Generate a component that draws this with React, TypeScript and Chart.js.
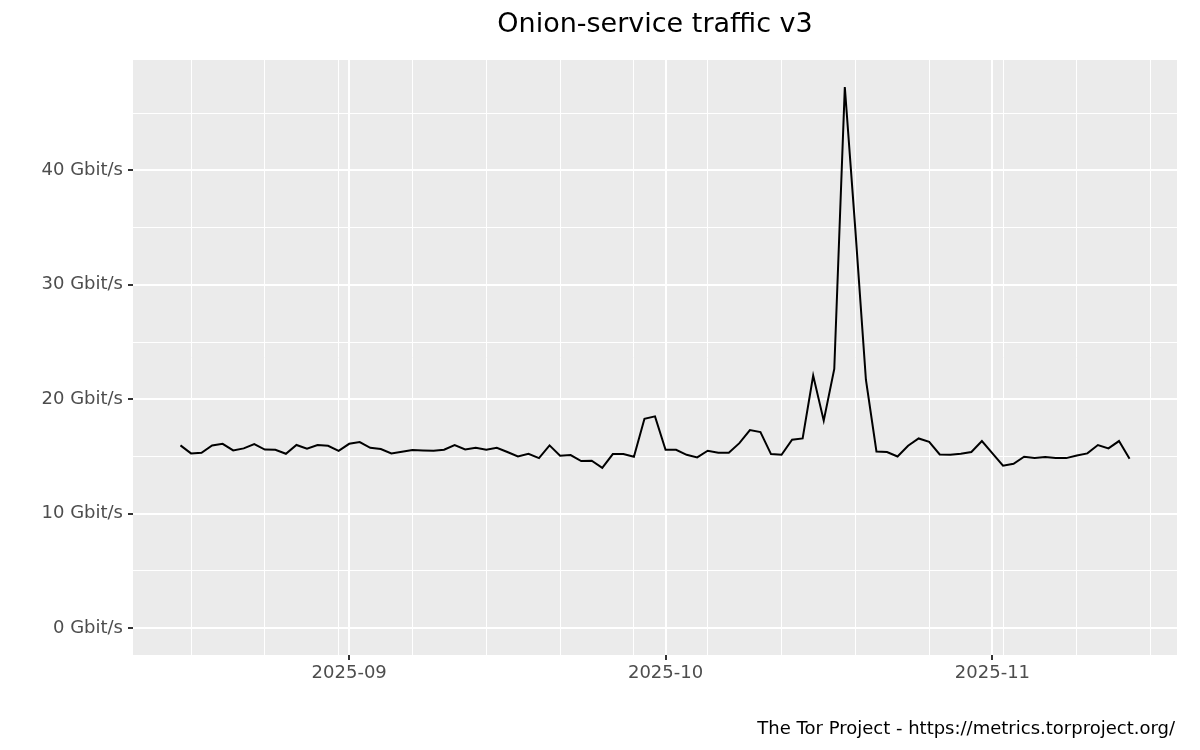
import React, { useEffect, useRef } from "react";
import { Chart, registerables } from "chart.js";

Chart.register(...registerables);

const TITLE = "Onion-service traffic v3";
const CAPTION = "The Tor Project - https://metrics.torproject.org/";
const START_DATE = "2025-08-16";

// Daily onion-service traffic (Gbit/s), 2025-08-16 .. 2025-11-14
const trafficGbit = [
  15.96, 15.26, 15.32, 15.96, 16.1, 15.52, 15.7, 16.08, 15.6, 15.58,
  15.23, 16.0, 15.67, 15.99, 15.93, 15.49, 16.1, 16.25, 15.75, 15.64,
  15.26, 15.4, 15.55, 15.52, 15.49, 15.58, 15.99, 15.6, 15.75, 15.58,
  15.75, 15.38, 14.99, 15.23, 14.85, 15.96, 15.05, 15.11, 14.59, 14.62,
  14.0, 15.2, 15.2, 14.97, 18.29, 18.5, 15.58, 15.58, 15.14, 14.91,
  15.49, 15.32, 15.32, 16.16, 17.3, 17.13, 15.2, 15.14, 16.45, 16.57,
  22.06, 18.12, 22.64, 47.29, 34.8, 21.7, 15.43, 15.38, 14.99, 15.93,
  16.57, 16.28, 15.17, 15.14, 15.23, 15.38, 16.34, 15.26, 14.18, 14.35,
  14.97, 14.85, 14.94, 14.85, 14.85, 15.08, 15.26, 15.99, 15.7, 16.34,
  14.79,
];

// Major x breaks (month starts) and minor x breaks (Sundays)
const monthTicks = ["2025-09-01", "2025-10-01", "2025-11-01"];
const monthLabels = ["2025-09", "2025-10", "2025-11"];
const weekTicks = [
  "2025-08-17", "2025-08-24", "2025-08-31", "2025-09-07", "2025-09-14",
  "2025-09-21", "2025-09-28", "2025-10-05", "2025-10-12", "2025-10-19",
  "2025-10-26", "2025-11-02", "2025-11-09", "2025-11-16",
];

const yMajorTicks = [0, 10, 20, 30, 40];
const yMinorTicks = [5, 15, 25, 35, 45];

const DAY = 86400000;
const startMs = Date.parse(START_DATE + "T00:00:00Z");
const dayIndex = (d: string) => Math.round((Date.parse(d + "T00:00:00Z") - startMs) / DAY);

const FONT = "'DejaVu Sans', 'Liberation Sans', sans-serif";

export default function App() {
  const ref = useRef<HTMLCanvasElement | null>(null);

  useEffect(() => {
    if (!ref.current) return;
    const points = trafficGbit.map((v, i) => ({ x: i, y: v }));
    const n = trafficGbit.length - 1;
    const xPad = n * 0.05;
    const yMax = Math.max(...trafficGbit);
    const yPad = yMax * 0.05;

    const majorX = monthTicks.map(dayIndex);
    const minorX = weekTicks.map(dayIndex);
    const xTickVals = [...majorX, ...minorX].sort((a, b) => a - b);
    const isMajorX = (v: number) => majorX.includes(v);
    const isMajorY = (v: number) => yMajorTicks.includes(v);

    const decor = {
      id: "decor",
      beforeDraw(chart: any) {
        const { ctx, chartArea } = chart;
        ctx.save();
        ctx.fillStyle = "#EBEBEB";
        ctx.fillRect(chartArea.left, chartArea.top, chartArea.right - chartArea.left, chartArea.bottom - chartArea.top);
        ctx.restore();
      },
      afterDraw(chart: any) {
        const { ctx, chartArea } = chart;
        ctx.save();
        ctx.fillStyle = "#000000";
        ctx.font = `27px ${FONT}`;
        ctx.textAlign = "center";
        ctx.textBaseline = "alphabetic";
        ctx.fillText(TITLE, (chartArea.left + chartArea.right) / 2, 32);
        ctx.font = `18px ${FONT}`;
        ctx.textAlign = "right";
        ctx.fillText(CAPTION, chartArea.right - 2, 734);
        ctx.restore();
      },
    };

    const chart = new Chart(ref.current, {
      type: "line",
      data: {
        datasets: [
          {
            data: points,
            borderColor: "#000000",
            borderWidth: 2,
            pointRadius: 0,
            tension: 0,
            fill: false,
          },
        ],
      },
      options: {
        animation: false,
        responsive: false,
        layout: { padding: { top: 60, right: 23, left: 0, bottom: 0 } },
        plugins: { legend: { display: false }, title: { display: false }, tooltip: { enabled: false } },
        scales: {
          x: {
            type: "linear",
            min: -xPad,
            max: n + xPad,
            afterBuildTicks: (scale: any) => {
              scale.ticks = xTickVals.map((v) => ({ value: v }));
            },
            afterFit: (scale: any) => {
              scale.height = 95;
            },
            border: { display: false },
            grid: {
              color: "#FFFFFF",
              lineWidth: (c: any) => (isMajorX(c.tick?.value) ? 2 : 1),
              tickColor: (c: any) => (isMajorX(c.tick?.value) ? "#333333" : "rgba(0,0,0,0)"),
              tickWidth: 2,
              tickLength: 5,
              drawTicks: true,
            },
            ticks: {
              autoSkip: false,
              maxRotation: 0,
              padding: 3,
              color: "#4D4D4D",
              font: { family: FONT, size: 18 },
              callback: (v: any) => {
                const i = majorX.indexOf(Number(v));
                return i >= 0 ? monthLabels[i] : "";
              },
            },
          },
          y: {
            type: "linear",
            min: -yPad,
            max: yMax + yPad,
            afterBuildTicks: (scale: any) => {
              scale.ticks = [...yMajorTicks, ...yMinorTicks].sort((a, b) => a - b).map((v) => ({ value: v }));
            },
            afterFit: (scale: any) => {
              scale.width = 133;
            },
            border: { display: false },
            grid: {
              color: "#FFFFFF",
              lineWidth: (c: any) => (isMajorY(c.tick?.value) ? 2 : 1),
              tickColor: (c: any) => (isMajorY(c.tick?.value) ? "#333333" : "rgba(0,0,0,0)"),
              tickWidth: 2,
              tickLength: 5,
              drawTicks: true,
            },
            ticks: {
              autoSkip: false,
              padding: 5,
              color: "#4D4D4D",
              font: { family: FONT, size: 18 },
              callback: (v: any) => (isMajorY(Number(v)) ? `${v} Gbit/s` : ""),
            },
          },
        },
      },
      plugins: [decor],
    } as any);

    return () => chart.destroy();
  }, []);

  return (
    <div style={{ position: "absolute", left: 0, top: 0, width: 1200, height: 750, background: "#FFFFFF" }}>
      <canvas ref={ref} width={1200} height={750} style={{ display: "block" }} />
    </div>
  );
}
